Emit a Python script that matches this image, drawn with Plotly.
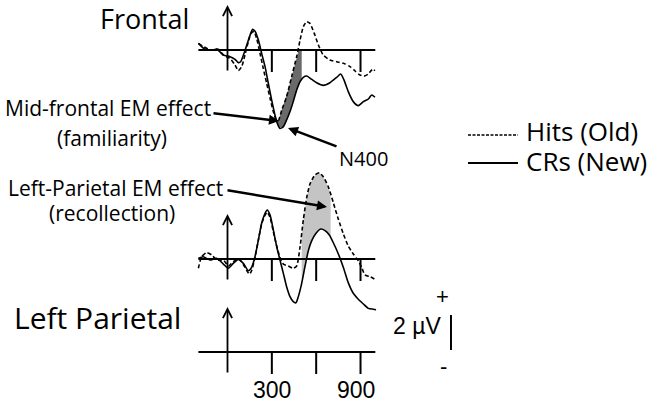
import numpy as np
import plotly.graph_objects as go

W, H = 662, 402

# ---------------- data (ms, µV) ----------------
t_fr_crs = [-197, -152, -96, -73, -28, 17, 51, 73, 89, 112, 134, 157, 170, 188, 209, 231, 254, 276, 299, 321,
            337, 355, 378, 400, 423, 445, 468, 491, 513, 536, 570, 603, 648, 693, 739, 766, 788, 817, 851, 885,
            919, 953, 975, 998]
v_fr_crs = [0.38, 0.04, 0, 0.06, -0.29, -0.38, -0.53, -0.72, -0.67, -0.19, 0.38, 0.95, 1.18, 1.05, 0.57, -0.19,
            -0.95, -1.9, -2.86, -3.71, -4.19, -4.48, -4.38, -4.0, -3.52, -2.95, -2.29, -1.81, -1.56, -1.49,
            -1.68, -1.87, -2.02, -1.87, -1.56, -1.37, -1.71, -2.38, -2.95, -3.18, -2.95, -2.8, -2.57, -2.70]

t_fr_hits = [-197, -118, -62, -28, 17, 51, 73, 96, 118, 141, 159, 179, 197, 220, 242, 265, 288, 310, 328, 344,
             367, 400, 434, 468, 491, 513, 536, 558, 587, 615, 648, 693, 739, 784, 829, 863, 896, 924, 953, 982,
             998]
v_fr_hits = [0.38, 0, 0.04, -0.29, -0.48, -0.86, -1.18, -0.95, -0.29, 0.48, 0.95, 1.05, 0.67, -0.19, -1.05,
             -1.9, -2.76, -3.52, -3.96, -4.04, -3.43, -2.67, -1.52, -0.38, 0.57, 1.33, 1.62, 1.52, 0.95, 0.29,
             -0.29, -0.57, -0.67, -0.76, -0.95, -1.2, -1.43, -1.49, -1.37, -1.1, -1.18]

t_lp_crs = [-197, -164, -118, -73, -28, 6, 39, 73, 107, 141, 163, 186, 209, 231, 254, 269, 288, 310, 333, 355,
            378, 400, 423, 445, 463, 479, 502, 524, 547, 570, 599, 631, 660, 689, 716, 750, 784, 817, 851, 885,
            919, 953, 987, 1005]
v_lp_crs = [0.04, 0.13, -0.06, 0.04, -0.29, -0.53, -0.25, -0.02, -0.25, -0.67, -0.48, 0.13, 1.09, 2.04, 2.61,
            2.8, 2.51, 1.66, 0.7, -0.06, -0.82, -1.58, -2.15, -2.44, -2.5, -2.15, -1.39, -0.44, 0.48, 1.05,
            1.47, 1.71, 1.62, 1.37, 0.93, 0.29, -0.48, -1.35, -1.96, -2.3, -2.57, -2.82, -2.87, -2.9]

t_lp_hits = [-197, -175, -141, -107, -73, -28, 6, 39, 80, 118, 148, 163, 186, 209, 231, 254, 269, 288, 310, 333,
             355, 378, 411, 445, 468, 491, 513, 536, 558, 592, 621, 648, 682, 716, 750, 784, 817, 851, 885, 908,
             930, 964, 998]
v_lp_hits = [-0.53, 0.13, 0.36, 0.23, -0.06, -0.06, -0.4, -0.15, -0.02, -0.48, -0.86, -0.67, 0.1, 1.09, 2.0,
             2.51, 2.67, 2.38, 1.56, 0.74, 0.1, -0.29, -0.4, -0.53, -0.4, 0.7, 2.23, 3.52, 4.29, 4.8, 4.93, 4.7,
             4.13, 3.22, 2.27, 1.43, 0.74, 0.29, -0.1, -0.48, -0.91, -1.01, -1.16]

tick_times = [300, 600, 900]
tick_labels = ["300", "900"]
tick_label_times = [300, 870]
epoch = [-197, 1000]
fr_window = [333, 502]     # mid-frontal effect window
lp_window = [502, 698]     # left-parietal effect window
calib_uv = 2

# ---------------- layout geometry ----------------
PX_PER_MS = 0.1478
X0_PX = 227.5
PX_PER_UV = 17.5
BASE_FR_PX = 50
x_range = [-X0_PX / PX_PER_MS, (W - X0_PX) / PX_PER_MS]
y_range = [(BASE_FR_PX - H) / PX_PER_UV, BASE_FR_PX / PX_PER_UV]
off_fr = 0.0
off_lp = (BASE_FR_PX - 259) / PX_PER_UV
off_bot = (BASE_FR_PX - 352) / PX_PER_UV
tick_len = 22 / PX_PER_UV
arrow_up = 45 / PX_PER_UV


def P(px, py):
    return px / W, 1 - py / H


fig = go.Figure()

# fills
def band(t_top, v_top, t_bot, v_bot, win, off, color, clip_top=None):
    tt = np.linspace(win[0], win[1], 60)
    top = np.interp(tt, t_top, v_top)
    if clip_top is not None:
        top = np.minimum(top, clip_top)
    bot = np.interp(tt, t_bot, v_bot)
    xs = np.concatenate([tt, tt[::-1]])
    ys = np.concatenate([top, bot[::-1]]) + off
    fig.add_trace(go.Scatter(x=xs, y=ys, fill="toself", fillcolor=color, mode="lines",
                             line=dict(width=0), hoverinfo="skip", showlegend=False))

band(t_fr_hits, v_fr_hits, t_fr_crs, v_fr_crs, fr_window, off_fr, "#6a6a6a", clip_top=0)
band(t_lp_hits, v_lp_hits, t_lp_crs, v_lp_crs, lp_window, off_lp, "#c4c4c4")

DASH = "4px,2.5px"
for t, v, off, dash, name in [
    (t_fr_hits, v_fr_hits, off_fr, DASH, "Hits (Old)"),
    (t_fr_crs, v_fr_crs, off_fr, "solid", "CRs (New)"),
    (t_lp_hits, v_lp_hits, off_lp, DASH, "Hits (Old)"),
    (t_lp_crs, v_lp_crs, off_lp, "solid", "CRs (New)"),
]:
    fig.add_trace(go.Scatter(x=t, y=np.array(v) + off, mode="lines", name=name,
                             line=dict(color="black", width=1.6, dash=dash, shape="spline", smoothing=0.6),
                             showlegend=False))

shapes = []
annotations = []
for off in [off_fr, off_lp, off_bot]:
    shapes.append(dict(type="line", xref="x", yref="y", x0=epoch[0], x1=epoch[1], y0=off, y1=off,
                       line=dict(color="black", width=2)))
    for tt in tick_times:
        shapes.append(dict(type="line", xref="x", yref="y", x0=tt, x1=tt, y0=off, y1=off - tick_len,
                           line=dict(color="black", width=2)))
    annotations.append(dict(x=0, y=off + arrow_up, xref="x", yref="y", ax=0, ay=off - tick_len,
                            axref="x", ayref="y", showarrow=True, arrowhead=5, arrowwidth=1.8,
                            arrowsize=1.0, arrowcolor="black", text=""))

# calibration bar
calib_x = 1512
calib_base = (BASE_FR_PX - 350) / PX_PER_UV
shapes.append(dict(type="line", xref="x", yref="y", x0=calib_x, x1=calib_x, y0=calib_base,
                   y1=calib_base + calib_uv, line=dict(color="black", width=2)))

# legend keys
shapes.append(dict(type="line", xref="paper", yref="paper", x0=468 / W, x1=518 / W, y0=1 - 135 / H,
                   y1=1 - 135 / H, line=dict(color="black", width=1.3, dash="3px,1.5px")))
shapes.append(dict(type="line", xref="paper", yref="paper", x0=468 / W, x1=518 / W, y0=1 - 163 / H,
                   y1=1 - 163 / H, line=dict(color="black", width=2)))

OS = "Open Sans"
AR = "Liberation Sans"


def text(s, px, py, size, font=OS, xanchor="center"):
    x, y = P(px, py)
    annotations.append(dict(text=s, x=x, y=y, xref="paper", yref="paper", showarrow=False, borderpad=0,
                            xanchor=xanchor, yanchor="middle", font=dict(family=font, size=size, color="black")))


text("Frontal", 144, 18, 27)
text("Left Parietal", 98, 317, 30)
text("Mid-frontal EM effect", 108, 108, 21)
text("(familiarity)", 112, 138, 21)
text("Left-Parietal EM effect", 115, 188, 21)
text("(recollection)", 112, 213, 21)
text("N400", 363, 158, 20)
text("Hits (Old)", 525, 131, 26, xanchor="left")
text("CRs (New)", 525, 161, 26, xanchor="left")
text("2 µV", 417, 326, 23, AR)
text("+", 442, 296, 22, AR)
text("-", 443, 366, 22, AR)
for lab, tt in zip(tick_labels, tick_label_times):
    annotations.append(dict(text=lab, x=tt, y=off_bot - 38 / PX_PER_UV, xref="x", yref="y", showarrow=False,
                            borderpad=0, xanchor="center", yanchor="middle",
                            font=dict(family=AR, size=23, color="black")))


def arrow(tail, head):
    x, y = P(*head)
    annotations.append(dict(text="", x=x, y=y, xref="paper", yref="paper", ax=tail[0] - head[0],
                            ay=tail[1] - head[1], showarrow=True, arrowhead=2, arrowwidth=2.5,
                            arrowsize=0.8, arrowcolor="black", standoff=0))


arrow((212, 113), (279, 121))
arrow((338, 147), (288, 128))
arrow((226, 190), (327, 207))

fig.update_layout(
    width=W, height=H, margin=dict(l=0, r=0, t=0, b=0),
    paper_bgcolor="white", plot_bgcolor="white",
    xaxis=dict(range=x_range, visible=False, fixedrange=True),
    yaxis=dict(range=y_range, visible=False, fixedrange=True),
    shapes=shapes, annotations=annotations, showlegend=False,
)
fig.write_html("out.html", config={"displayModeBar": False},
               post_script="document.body.style.margin='0';document.body.style.padding='0';"
                           "document.body.style.overflow='hidden';")
